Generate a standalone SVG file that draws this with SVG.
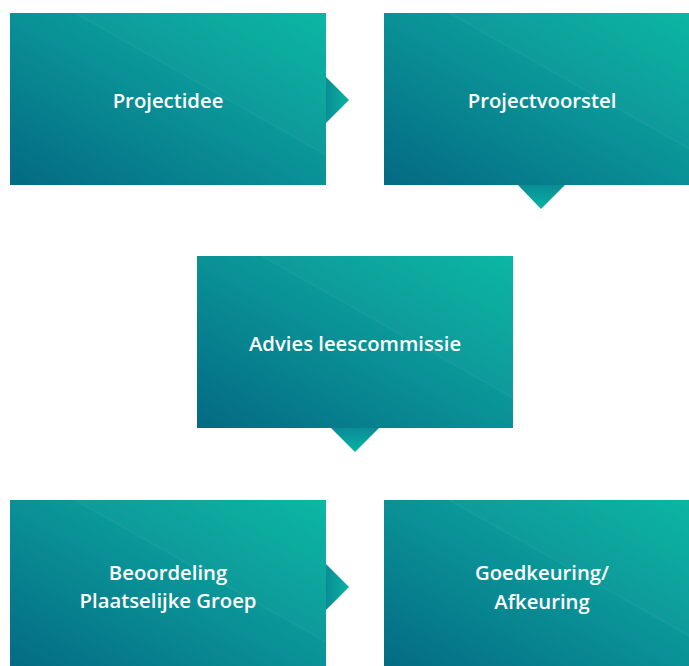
<svg xmlns="http://www.w3.org/2000/svg" width="689" height="666" viewBox="0 0 689 666">
<defs>
<linearGradient id="bg" x1="0" y1="1" x2="1" y2="0">
<stop offset="0" stop-color="#036a83"/>
<stop offset="0.5" stop-color="#0a9196"/>
<stop offset="1" stop-color="#06b6a2"/>
</linearGradient>
<linearGradient id="tr" x1="0" y1="0" x2="1" y2="0">
<stop offset="0" stop-color="#0a8c96"/>
<stop offset="1" stop-color="#07b4a2"/>
</linearGradient>
<linearGradient id="td" x1="0" y1="0" x2="0" y2="1">
<stop offset="0" stop-color="#0a8c96"/>
<stop offset="1" stop-color="#07b4a2"/>
</linearGradient>
<style>
.box{fill:url(#bg)}
.sheen{fill:#ffffff;fill-opacity:0.025}
.ln{stroke:#ffffff;stroke-opacity:0.035;stroke-width:2.5;fill:none}
.lbl{font-family:"Open Sans","Liberation Sans",sans-serif;font-size:20.3px;font-weight:600;fill:#ffffff;text-anchor:middle}
</style>
</defs>
<g id="connectors">
<polygon points="326,77 349,100 326,123" fill="url(#tr)"/>
<polygon points="518,185 541,209 565,185" fill="url(#td)"/>
<polygon points="331,428 355,452 379,428" fill="url(#td)"/>
<polygon points="326,564 349,587 326,610" fill="url(#tr)"/>
</g>
<g id="n1">
<rect class="box" x="10" y="13" width="316" height="172"/>
<polygon class="sheen" points="75,13 326,13 326,155"/>
<line class="ln" x1="75" y1="13" x2="326" y2="155"/>
<text class="lbl" x="168" y="108">Projectidee</text>
</g>
<g id="n2">
<rect class="box" x="384" y="13" width="316" height="172"/>
<polygon class="sheen" points="449,13 700,13 700,155"/>
<line class="ln" x1="449" y1="13" x2="700" y2="155"/>
<text class="lbl" x="542" y="108">Projectvoorstel</text>
</g>
<g id="n3">
<rect class="box" x="197" y="256" width="316" height="172"/>
<polygon class="sheen" points="262,256 513,256 513,398"/>
<line class="ln" x1="262" y1="256" x2="513" y2="398"/>
<text class="lbl" x="355" y="351">Advies leescommissie</text>
</g>
<g id="n4">
<rect class="box" x="10" y="500" width="316" height="172"/>
<polygon class="sheen" points="75,500 326,500 326,642"/>
<line class="ln" x1="75" y1="500" x2="326" y2="642"/>
<text class="lbl" x="168" y="580">Beoordeling</text>
<text class="lbl" x="168" y="608">Plaatselijke Groep</text>
</g>
<g id="n5">
<rect class="box" x="384" y="500" width="316" height="172"/>
<polygon class="sheen" points="449,500 700,500 700,642"/>
<line class="ln" x1="449" y1="500" x2="700" y2="642"/>
<text class="lbl" x="542" y="580">Goedkeuring/</text>
<text class="lbl" x="542" y="609">Afkeuring</text>
</g>
</svg>
